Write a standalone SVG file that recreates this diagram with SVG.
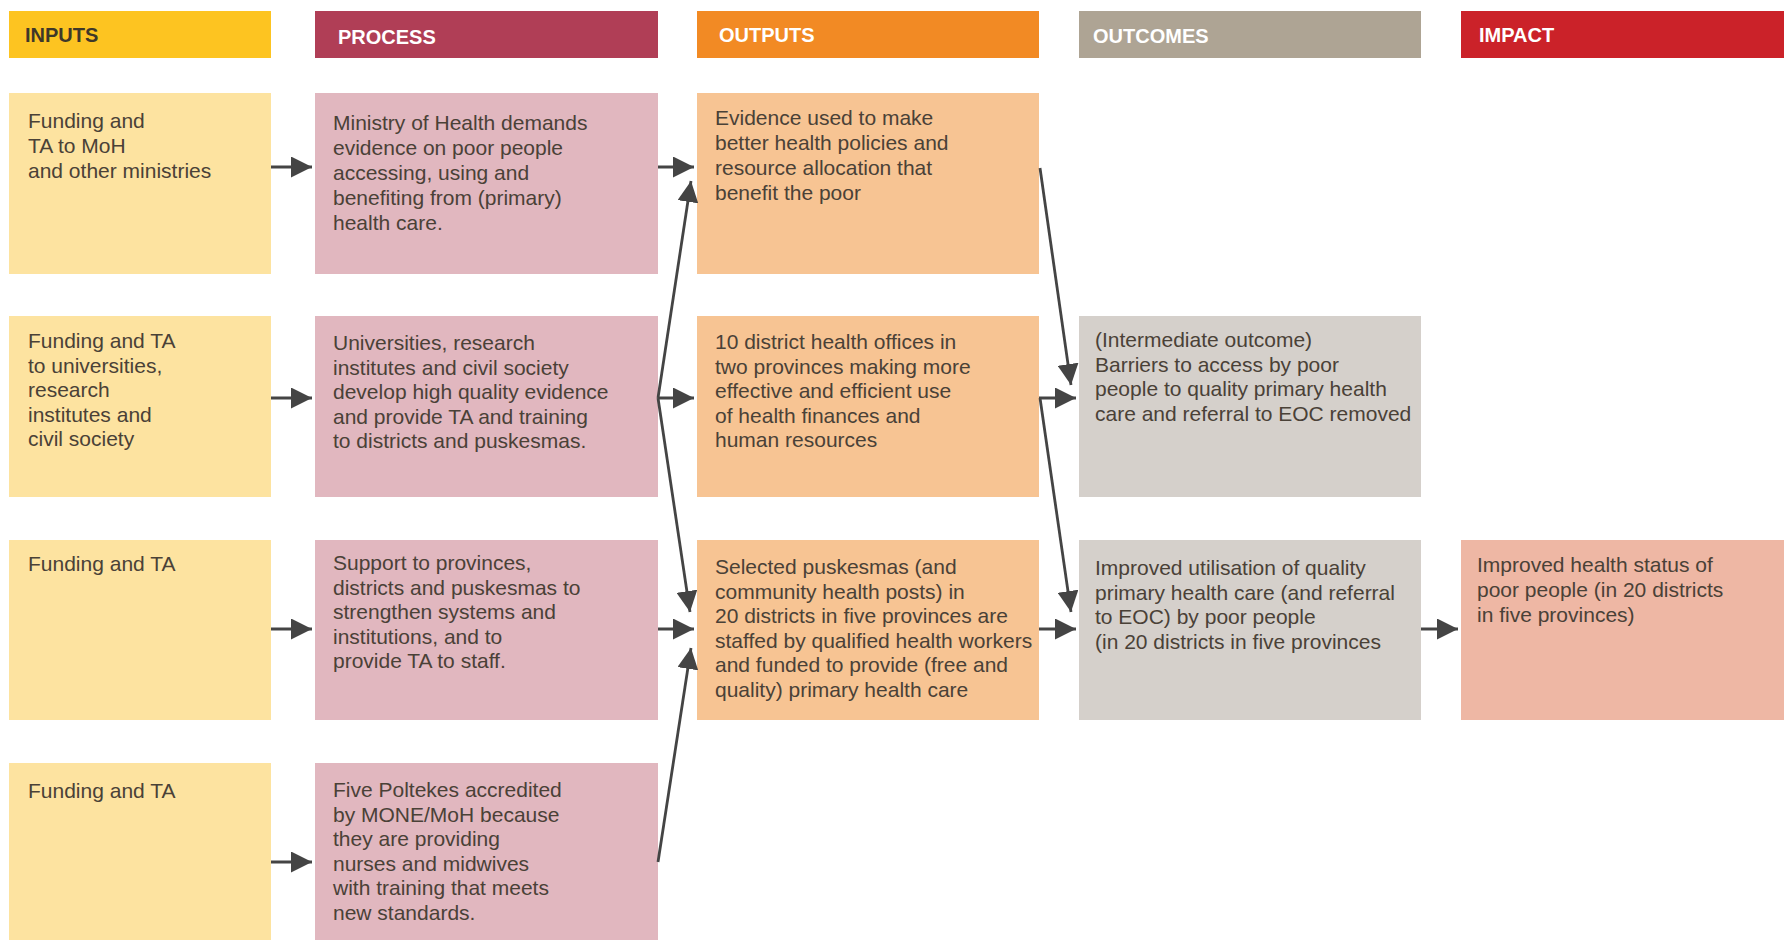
<svg xmlns="http://www.w3.org/2000/svg" width="1784" height="940" viewBox="0 0 1784 940">
<defs>
<marker id="ah" viewBox="0 0 10 10" refX="10" refY="5" markerWidth="7.5" markerHeight="7.5" markerUnits="strokeWidth" orient="auto">
<path d="M0,0 L10,5 L0,10 Z" fill="#444444"/>
</marker>
<style>
text{font-family:"Liberation Sans Narrow","Liberation Sans",Arial,sans-serif;font-size:21px;fill:#4a4137}
.hd{font-weight:bold;font-size:20px;fill:#ffffff}
.hd.dark{fill:#3f3829}
.imp{font-family:"Liberation Sans",Arial,sans-serif;font-size:21px}
.in{fill:#fde3a0}.pr{fill:#e1b7bf}.ou{fill:#f7c493}.oc{fill:#d5d0cb}.im{fill:#eeb7a4}
.conn line{stroke:#444444;stroke-width:2.8;fill:none;marker-end:url(#ah)}
</style>
</defs>
<rect width="1784" height="940" fill="#ffffff"/>
<g id="headers">
<g id="h-inputs"><rect x="9" y="11" width="262" height="47" fill="#fdc421"/><text class="hd dark" x="25" y="42">INPUTS</text></g>
<g id="h-process"><rect x="315" y="11" width="343" height="47" fill="#b03e56"/><text class="hd" x="338" y="44">PROCESS</text></g>
<g id="h-outputs"><rect x="697" y="11" width="342" height="47" fill="#f28a24"/><text class="hd" x="719" y="42">OUTPUTS</text></g>
<g id="h-outcomes"><rect x="1079" y="11" width="342" height="47" fill="#aea494"/><text class="hd" x="1093" y="43">OUTCOMES</text></g>
<g id="h-impact"><rect x="1461" y="11" width="323" height="47" fill="#cb2229"/><text class="hd" x="1479" y="42" style="font-family:'Liberation Sans',Arial,sans-serif">IMPACT</text></g>
</g>

<g id="in1"><rect class="in" x="9" y="93" width="262" height="181"/>
<text x="28" y="128"><tspan x="28">Funding and</tspan><tspan x="28" dy="25">TA to MoH</tspan><tspan x="28" dy="25">and other ministries</tspan></text></g>
<g id="in2"><rect class="in" x="9" y="316" width="262" height="181"/>
<text x="28" y="348"><tspan x="28">Funding and TA</tspan><tspan x="28" dy="24.5">to universities,</tspan><tspan x="28" dy="24.5">research</tspan><tspan x="28" dy="24.5">institutes and</tspan><tspan x="28" dy="24.5">civil society</tspan></text></g>
<g id="in3"><rect class="in" x="9" y="540" width="262" height="180"/>
<text x="28" y="571">Funding and TA</text></g>
<g id="in4"><rect class="in" x="9" y="763" width="262" height="177"/>
<text x="28" y="798">Funding and TA</text></g>

<g id="pr1"><rect class="pr" x="315" y="93" width="343" height="181"/>
<text x="333" y="130"><tspan x="333">Ministry of Health demands</tspan><tspan x="333" dy="25">evidence on poor people</tspan><tspan x="333" dy="25">accessing, using and</tspan><tspan x="333" dy="25">benefiting from (primary)</tspan><tspan x="333" dy="25">health care.</tspan></text></g>
<g id="pr2"><rect class="pr" x="315" y="316" width="343" height="181"/>
<text x="333" y="350"><tspan x="333">Universities, research</tspan><tspan x="333" dy="24.5">institutes and civil society</tspan><tspan x="333" dy="24.5">develop high quality evidence</tspan><tspan x="333" dy="24.5">and provide TA and training</tspan><tspan x="333" dy="24.5">to districts and puskesmas.</tspan></text></g>
<g id="pr3"><rect class="pr" x="315" y="540" width="343" height="180"/>
<text x="333" y="570"><tspan x="333">Support to provinces,</tspan><tspan x="333" dy="24.5">districts and puskesmas to</tspan><tspan x="333" dy="24.5">strengthen systems and</tspan><tspan x="333" dy="24.5">institutions, and to</tspan><tspan x="333" dy="24.5">provide TA to staff.</tspan></text></g>
<g id="pr4"><rect class="pr" x="315" y="763" width="343" height="177"/>
<text x="333" y="797"><tspan x="333">Five Poltekes accredited</tspan><tspan x="333" dy="24.5">by MONE/MoH because</tspan><tspan x="333" dy="24.5">they are providing</tspan><tspan x="333" dy="24.5">nurses and midwives</tspan><tspan x="333" dy="24.5">with training that meets</tspan><tspan x="333" dy="24.5">new standards.</tspan></text></g>

<g id="ou1"><rect class="ou" x="697" y="93" width="342" height="181"/>
<text x="715" y="125"><tspan x="715">Evidence used to make</tspan><tspan x="715" dy="25">better health policies and</tspan><tspan x="715" dy="25">resource allocation that</tspan><tspan x="715" dy="25">benefit the poor</tspan></text></g>
<g id="ou2"><rect class="ou" x="697" y="316" width="342" height="181"/>
<text x="715" y="349"><tspan x="715">10 district health offices in</tspan><tspan x="715" dy="24.5">two provinces making more</tspan><tspan x="715" dy="24.5">effective and efficient use</tspan><tspan x="715" dy="24.5">of health finances and</tspan><tspan x="715" dy="24.5">human resources</tspan></text></g>
<g id="ou3"><rect class="ou" x="697" y="540" width="342" height="180"/>
<text x="715" y="574"><tspan x="715">Selected puskesmas (and</tspan><tspan x="715" dy="24.5">community health posts) in</tspan><tspan x="715" dy="24.5">20 districts in five provinces are</tspan><tspan x="715" dy="24.5">staffed by qualified health workers</tspan><tspan x="715" dy="24.5">and funded to provide (free and</tspan><tspan x="715" dy="24.5">quality) primary health care</tspan></text></g>

<g id="oc2"><rect class="oc" x="1079" y="316" width="342" height="181"/>
<text x="1095" y="347"><tspan x="1095">(Intermediate outcome)</tspan><tspan x="1095" dy="24.5">Barriers to access by poor</tspan><tspan x="1095" dy="24.5">people to quality primary health</tspan><tspan x="1095" dy="24.5">care and referral to EOC removed</tspan></text></g>
<g id="oc3"><rect class="oc" x="1079" y="540" width="342" height="180"/>
<text x="1095" y="575"><tspan x="1095">Improved utilisation of quality</tspan><tspan x="1095" dy="24.5">primary health care (and referral</tspan><tspan x="1095" dy="24.5">to EOC) by poor people</tspan><tspan x="1095" dy="24.5">(in 20 districts in five provinces</tspan></text></g>

<g id="im3"><rect class="im" x="1461" y="540" width="323" height="180"/>
<text class="imp" x="1477" y="572"><tspan x="1477">Improved health status of</tspan><tspan x="1477" dy="25">poor people (in 20 districts</tspan><tspan x="1477" dy="25">in five provinces)</tspan></text></g>

<g id="connectors" class="conn">
<line x1="271" y1="167" x2="312" y2="167"/>
<line x1="658" y1="167" x2="694" y2="167"/>
<line x1="271" y1="398" x2="312" y2="398"/>
<line x1="658" y1="398" x2="694" y2="398"/>
<line x1="1039" y1="398" x2="1076" y2="398"/>
<line x1="271" y1="629" x2="312" y2="629"/>
<line x1="658" y1="629" x2="694" y2="629"/>
<line x1="1039" y1="629" x2="1076" y2="629"/>
<line x1="1421" y1="629" x2="1458" y2="629"/>
<line x1="271" y1="862" x2="312" y2="862"/>
<line x1="658" y1="398" x2="691" y2="181"/>
<line x1="658" y1="398" x2="690" y2="612"/>
<line x1="658" y1="862" x2="691" y2="648"/>
<line x1="1040" y1="168" x2="1071" y2="385"/>
<line x1="1040" y1="398" x2="1071" y2="612"/>
</g>
</svg>
